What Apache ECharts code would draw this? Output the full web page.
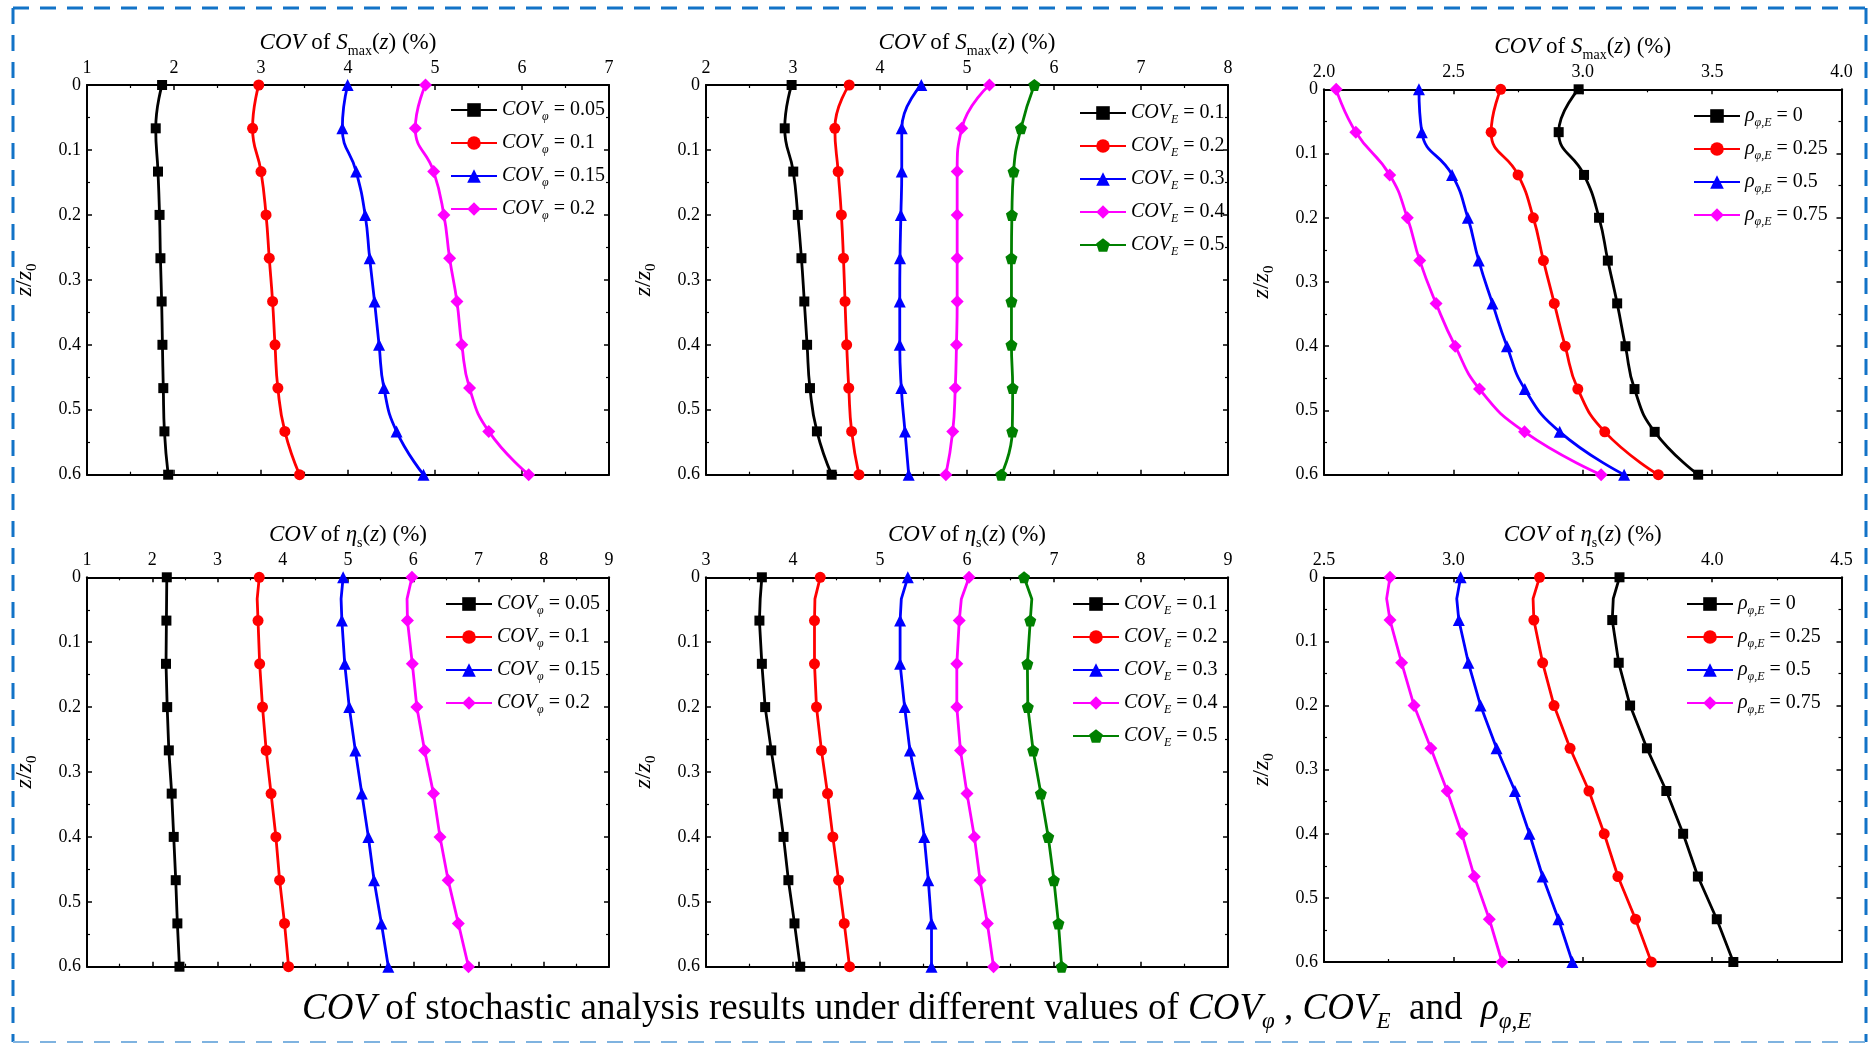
<!DOCTYPE html>
<html><head><meta charset="utf-8">
<script src="https://cdn.jsdelivr.net/npm/echarts@6/dist/echarts.min.js"></script>
<style>html,body{margin:0;padding:0;background:#fff;}#c{width:1870px;height:1046px;}</style>
</head><body><div id="c"></div>
<script>
// depth ratios
const zTop = [0, 0.0667, 0.1333, 0.2, 0.2667, 0.3333, 0.4, 0.4667, 0.5333, 0.6];
const zBot = [0, 0.0333, 0.0667, 0.1333, 0.2, 0.2667, 0.3333, 0.4, 0.4667, 0.5333, 0.6];

// legend names
const namesPhi = ['COVφ = 0.05', 'COVφ = 0.1', 'COVφ = 0.15', 'COVφ = 0.2'];
const namesE = ['COVE = 0.1', 'COVE = 0.2', 'COVE = 0.3', 'COVE = 0.4', 'COVE = 0.5'];
const namesRho = ['ρφ,E = 0', 'ρφ,E = 0.25', 'ρφ,E = 0.5', 'ρφ,E = 0.75'];

// x tick labels per panel
const ticks1 = [1, 2, 3, 4, 5, 6, 7];
const ticks2 = [2, 3, 4, 5, 6, 7, 8];
const ticks3 = [2.0, 2.5, 3.0, 3.5, 4.0];
const ticks4 = [1, 2, 3, 4, 5, 6, 7, 8, 9];
const ticks5 = [3, 4, 5, 6, 7, 8, 9];
const ticks6 = [2.5, 3.0, 3.5, 4.0, 4.5];
const yTicks = [0, 0.1, 0.2, 0.3, 0.4, 0.5, 0.6];

// Panel 1: COV of Smax(z), varying COVφ
const p1_phi005 = [1.863, 1.79, 1.816, 1.834, 1.844, 1.858, 1.867, 1.877, 1.89, 1.933];
const p1_phi01  = [2.974, 2.903, 3.0, 3.058, 3.095, 3.133, 3.161, 3.194, 3.274, 3.443];
const p1_phi015 = [3.996, 3.935, 4.094, 4.197, 4.249, 4.305, 4.357, 4.413, 4.558, 4.868];
const p1_phi02  = [4.891, 4.774, 4.985, 5.102, 5.168, 5.252, 5.308, 5.397, 5.618, 6.077];

// Panel 2: COV of Smax(z), varying COVE
const p2_E01 = [2.984, 2.905, 3.003, 3.055, 3.097, 3.13, 3.162, 3.195, 3.275, 3.444];
const p2_E02 = [3.646, 3.481, 3.519, 3.556, 3.58, 3.598, 3.617, 3.641, 3.674, 3.758];
const p2_E03 = [4.475, 4.25, 4.25, 4.24, 4.23, 4.227, 4.227, 4.245, 4.287, 4.33];
const p2_E04 = [5.258, 4.94, 4.887, 4.887, 4.887, 4.887, 4.879, 4.865, 4.836, 4.757];
const p2_E05 = [5.774, 5.62, 5.535, 5.516, 5.511, 5.511, 5.511, 5.525, 5.52, 5.394];

// Panel 3: COV of Smax(z), varying ρφ,E
const p3_r0   = [2.984, 2.907, 3.005, 3.063, 3.097, 3.133, 3.165, 3.2, 3.278, 3.446];
const p3_r025 = [2.683, 2.646, 2.75, 2.809, 2.848, 2.89, 2.932, 2.981, 3.085, 3.292];
const p3_r05  = [2.367, 2.378, 2.495, 2.556, 2.598, 2.651, 2.707, 2.776, 2.911, 3.16];
const p3_r075 = [2.047, 2.123, 2.254, 2.322, 2.37, 2.433, 2.507, 2.601, 2.775, 3.071];

// Panel 4: COV of ηs(z), varying COVφ
const p4_phi005 = [2.223, 2.22, 2.217, 2.211, 2.229, 2.254, 2.298, 2.329, 2.36, 2.385, 2.417];
const p4_phi01  = [3.64, 3.608, 3.621, 3.646, 3.69, 3.746, 3.821, 3.895, 3.952, 4.027, 4.089];
const p4_phi015 = [4.925, 4.894, 4.906, 4.95, 5.019, 5.112, 5.212, 5.312, 5.399, 5.512, 5.618];
const p4_phi02  = [5.98, 5.905, 5.911, 5.986, 6.055, 6.174, 6.31, 6.41, 6.535, 6.691, 6.847];

// Panel 5: COV of ηs(z), varying COVE
const p5_E01 = [3.642, 3.623, 3.614, 3.642, 3.68, 3.75, 3.825, 3.891, 3.947, 4.017, 4.083];
const p5_E02 = [4.313, 4.252, 4.247, 4.247, 4.27, 4.327, 4.397, 4.458, 4.524, 4.589, 4.65];
const p5_E03 = [5.32, 5.245, 5.231, 5.231, 5.283, 5.344, 5.442, 5.508, 5.555, 5.592, 5.592];
const p5_E04 = [6.024, 5.935, 5.911, 5.883, 5.883, 5.925, 6.0, 6.085, 6.15, 6.234, 6.305];
const p5_E05 = [6.656, 6.745, 6.727, 6.694, 6.699, 6.76, 6.849, 6.934, 6.999, 7.051, 7.088];

// Panel 6: COV of ηs(z), varying ρφ,E
const p6_r0   = [3.642, 3.618, 3.614, 3.639, 3.683, 3.748, 3.823, 3.888, 3.945, 4.018, 4.082];
const p6_r025 = [3.333, 3.308, 3.311, 3.345, 3.389, 3.451, 3.524, 3.583, 3.636, 3.704, 3.765];
const p6_r05  = [3.028, 3.013, 3.021, 3.058, 3.105, 3.167, 3.238, 3.294, 3.345, 3.406, 3.46];
const p6_r075 = [2.755, 2.742, 2.755, 2.8, 2.848, 2.913, 2.976, 3.033, 3.081, 3.139, 3.188];

const SERIF = "'Liberation Serif', 'DejaVu Serif', serif";
const colors = ['#000000', '#ff0000', '#0000ff', '#ff00ff', '#008000'];
const pentagon = 'path://M0,-10L9.51,-3.09L5.88,8.09L-5.88,8.09L-9.51,-3.09Z';
const symbols = ['rect', 'circle', 'triangle', 'diamond', pentagon];
const symSizes = [10, 11, 12, 13, 12];

function richSet(fs) {
  return {
    i: {fontFamily: SERIF, fontStyle: 'italic', fontSize: fs, lineHeight: Math.round(fs * 1.3), color: '#000'},
    n: {fontFamily: SERIF, fontSize: fs, lineHeight: Math.round(fs * 1.3), color: '#000'},
    s: {fontFamily: SERIF, fontSize: Math.round(fs * 0.62), lineHeight: Math.round(fs * 0.62), verticalAlign: 'bottom', color: '#000'},
    si: {fontFamily: SERIF, fontStyle: 'italic', fontSize: Math.round(fs * 0.62), lineHeight: Math.round(fs * 0.62), verticalAlign: 'bottom', color: '#000'}
  };
}

function legendText(name) {
  const parts = name.split(' = ');
  const v = parts[1];
  if (name.startsWith('COVφ')) return '{i|COV}{si|φ}{n| = ' + v + '}';
  if (name.startsWith('COVE')) return '{i|COV}{si|E}{n| = ' + v + '}';
  return '{i|ρ}{si|φ,E}{n| = ' + v + '}';
}

const panels = [
  {grid: {left: 87, top: 85, width: 522, height: 389.7}, ticks: ticks1, z: zTop, smooth: true,
   title: '{i|COV}{n| of }{i|S}{s|max}{n|(}{i|z}{n|) (%)}', names: namesPhi,
   data: [p1_phi005, p1_phi01, p1_phi015, p1_phi02], legend: {left: 450, top: 100}},
  {grid: {left: 706, top: 85, width: 522, height: 389.7}, ticks: ticks2, z: zTop, smooth: true,
   title: '{i|COV}{n| of }{i|S}{s|max}{n|(}{i|z}{n|) (%)}', names: namesE,
   data: [p2_E01, p2_E02, p2_E03, p2_E04, p2_E05], legend: {left: 1079, top: 103}},
  {grid: {left: 1324, top: 89.3, width: 517.5, height: 385.4}, ticks: ticks3, z: zTop, smooth: true,
   title: '{i|COV}{n| of }{i|S}{s|max}{n|(}{i|z}{n|) (%)}', names: namesRho,
   data: [p3_r0, p3_r025, p3_r05, p3_r075], legend: {left: 1693, top: 106}},
  {grid: {left: 87, top: 577.3, width: 522, height: 389.4}, ticks: ticks4, z: zBot, smooth: false,
   title: '{i|COV}{n| of }{i|η}{s|s}{n|(}{i|z}{n|) (%)}', names: namesPhi,
   data: [p4_phi005, p4_phi01, p4_phi015, p4_phi02], legend: {left: 445, top: 594}},
  {grid: {left: 706, top: 577.3, width: 522, height: 389.4}, ticks: ticks5, z: zBot, smooth: false,
   title: '{i|COV}{n| of }{i|η}{s|s}{n|(}{i|z}{n|) (%)}', names: namesE,
   data: [p5_E01, p5_E02, p5_E03, p5_E04, p5_E05], legend: {left: 1072, top: 594}},
  {grid: {left: 1324, top: 577.3, width: 517.5, height: 384.7}, ticks: ticks6, z: zBot, smooth: false,
   title: '{i|COV}{n| of }{i|η}{s|s}{n|(}{i|z}{n|) (%)}', names: namesRho,
   data: [p6_r0, p6_r025, p6_r05, p6_r075], legend: {left: 1686, top: 594}}
];

const grid = [], xAxis = [], yAxis = [], series = [], legend = [];
const axisLine = {show: true, onZero: false, lineStyle: {color: '#000', width: 2}};
const axisTick = {show: true, inside: true, length: 5, lineStyle: {color: '#000', width: 1.5}};
const minorTick = {show: true, splitNumber: 2, length: 3, lineStyle: {color: '#000', width: 1.2}};

panels.forEach((p, k) => {
  grid.push(Object.assign({containLabel: false}, p.grid));
  const t = p.ticks;
  const step = t[1] - t[0];
  const dec = (step < 1) ? 1 : 0;
  const common = {gridIndex: k, type: 'value', min: t[0], max: t[t.length - 1], interval: step,
    splitLine: {show: false}, axisLine, axisTick, minorTick};
  xAxis.push(Object.assign({}, common, {
    position: 'top',
    axisLabel: {show: true, margin: 8, fontFamily: SERIF, fontSize: 18, color: '#000',
      formatter: v => v.toFixed(dec)},
    name: p.title, nameLocation: 'middle', nameGap: 27,
    nameTextStyle: {rich: richSet(23)}
  }));
  xAxis.push(Object.assign({}, common, {position: 'bottom', axisLabel: {show: false}}));
  const ycommon = {gridIndex: k, type: 'value', inverse: true, min: yTicks[0], max: yTicks[yTicks.length - 1],
    interval: 0.1, splitLine: {show: false}, axisLine, axisTick, minorTick};
  yAxis.push(Object.assign({}, ycommon, {
    position: 'left',
    axisLabel: {show: true, margin: 6, fontFamily: SERIF, fontSize: 18, color: '#000',
      formatter: v => (v === 0 ? '0' : v.toFixed(1))},
    name: '{i|z}{n|/}{i|z}{s|0}', nameLocation: 'middle', nameRotate: 90, nameGap: 47,
    nameTextStyle: {rich: richSet(24)}
  }));
  yAxis.push(Object.assign({}, ycommon, {position: 'right', axisLabel: {show: false}}));

  p.data.forEach((vals, j) => {
    const pts = vals.map((x, idx) => {
      const item = {value: [x, p.z[idx]]};
      if (p.z.length === 11 && idx === 1) item.symbol = 'none';
      return item;
    });
    series.push({
      type: 'line', name: p.names[j], xAxisIndex: 2 * k, yAxisIndex: 2 * k,
      data: pts, smooth: p.smooth ? 0.5 : false,
      symbol: symbols[j], symbolSize: symSizes[j], showAllSymbol: true,
      lineStyle: {color: colors[j], width: 2.8},
      itemStyle: {color: colors[j]},
      emphasis: {disabled: true}, animation: false, clip: false
    });
  });

  legend.push({
    show: true, orient: 'vertical', left: p.legend.left, top: p.legend.top, padding: 0,
    data: p.names, itemWidth: 46, itemHeight: 17, itemGap: 10, selectedMode: false,
    formatter: legendText,
    textStyle: {rich: richSet(20)}
  });
});

const caption = '{i|COV}{n| of stochastic analysis results under different values of }{i|COV}{si|φ}{n| , }{i|COV}{si|E}{n|  and  }{i|ρ}{si|φ,E}';

const chart = echarts.init(document.getElementById('c'), null, {renderer: 'canvas'});
chart.setOption({
  backgroundColor: '#ffffff',
  animation: false,
  grid, xAxis, yAxis, series, legend,
  graphic: [
    {type: 'line', shape: {x1: 13, y1: 8, x2: 1866, y2: 8}, style: {stroke: '#1273c7', lineWidth: 3, lineDash: [16, 11]}},
    {type: 'line', shape: {x1: 13, y1: 8, x2: 13, y2: 1042}, style: {stroke: '#1273c7', lineWidth: 3, lineDash: [16, 11]}},
    {type: 'line', shape: {x1: 1866, y1: 8, x2: 1866, y2: 1042}, style: {stroke: '#1273c7', lineWidth: 3, lineDash: [16, 11]}},
    {type: 'line', shape: {x1: 13, y1: 1042, x2: 1866, y2: 1042}, style: {stroke: '#7fb3e0', lineWidth: 2, lineDash: [16, 11]}},
    {type: 'text', left: 302, top: 991,
     style: {text: caption, rich: richSet(37)}}
  ]
});
</script></body></html>
